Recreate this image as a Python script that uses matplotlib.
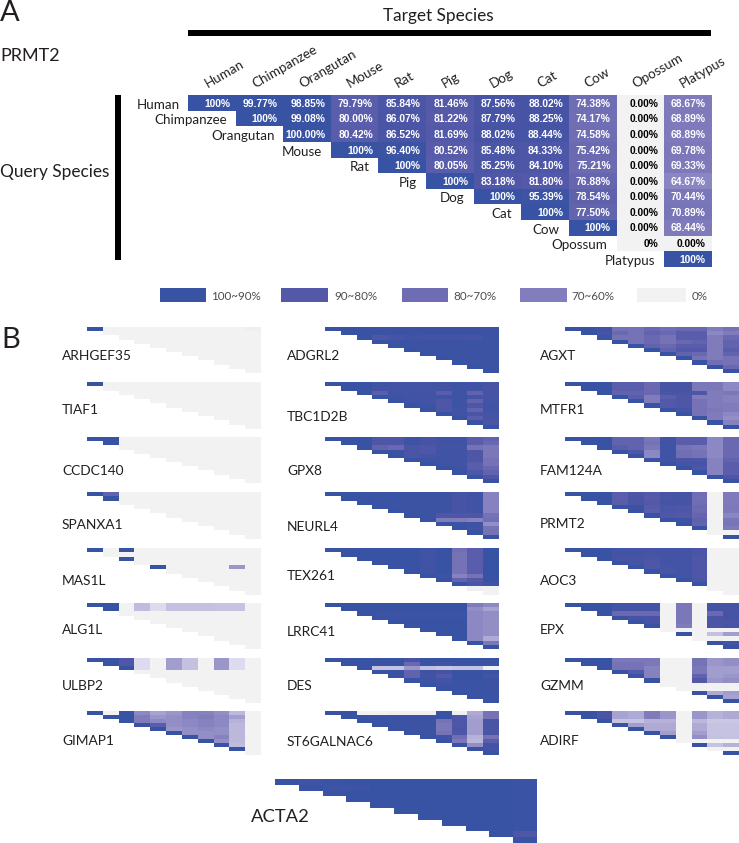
import numpy as np
import matplotlib
matplotlib.use('Agg')
import matplotlib.pyplot as plt
from matplotlib.colors import LinearSegmentedColormap
from matplotlib.patches import Rectangle

plt.rcParams['font.family'] = ['Lato', 'DejaVu Sans']

W, H = 739, 843

SPECIES = ['Human', 'Chimpanzee', 'Orangutan', 'Mouse', 'Rat', 'Pig', 'Dog',
           'Cat', 'Cow', 'Opossum', 'Platypus']

# panel A, as printed in the cells
PRMT2_TEXT = [
    ['100%', '99.77%', '98.85%', '79.79%', '85.84%', '81.46%', '87.56%', '88.02%', '74.38%', '0.00%', '68.67%'],
    ['100%', '99.08%', '80.00%', '86.07%', '81.22%', '87.79%', '88.25%', '74.17%', '0.00%', '68.89%'],
    ['100.00%', '80.42%', '86.52%', '81.69%', '88.02%', '88.44%', '74.58%', '0.00%', '68.89%'],
    ['100%', '96.40%', '80.52%', '85.48%', '84.33%', '75.42%', '0.00%', '69.78%'],
    ['100%', '80.05%', '85.25%', '84.10%', '75.21%', '0.00%', '69.33%'],
    ['100%', '83.18%', '81.80%', '76.88%', '0.00%', '64.67%'],
    ['100%', '95.39%', '78.54%', '0.00%', '70.44%'],
    ['100%', '77.50%', '0.00%', '70.89%'],
    ['100%', '0.00%', '68.44%'],
    ['0%', '0.00%'],
    ['100%'],
]

LEGEND_LABELS = ['100~90%', '90~80%', '80~70%', '70~60%', '0%']
LEGEND_COLORS = ['#3953a4', '#5358a8', '#6e6cb3', '#827ebd', '#f2f2f2']

# panel B, rows start on the diagonal
ARHGEF35 = [
    [100, 0, 0, 0, 0, 0, 0, 0, 0, 0, 8],
    [0, 0, 0, 0, 0, 0, 0, 0, 0, 0],
    [0, 0, 0, 0, 0, 0, 0, 0, 0],
    [0, 0, 0, 0, 0, 0, 0, 0],
    [0, 0, 0, 0, 0, 0, 0],
    [0, 0, 0, 0, 0, 0],
    [0, 0, 0, 0, 0],
    [0, 0, 0, 0],
    [0, 0, 0],
    [0, 0],
    [0],
]
TIAF1 = [
    [100, 0, 0, 0, 0, 0, 0, 0, 0, 0, 0],
    [0, 0, 0, 0, 0, 0, 0, 0, 0, 0],
    [0, 0, 0, 0, 0, 0, 0, 0, 0],
    [0, 0, 0, 0, 0, 0, 0, 0],
    [0, 0, 0, 0, 0, 0, 0],
    [0, 0, 0, 0, 0, 0],
    [0, 0, 0, 0, 0],
    [0, 0, 0, 0],
    [0, 0, 0],
    [0, 0],
    [0],
]
CCDC140 = [
    [100, 100, 0, 0, 0, 0, 0, 0, 0, 0, 0],
    [100, 0, 0, 0, 0, 0, 0, 0, 0, 0],
    [0, 0, 0, 0, 0, 0, 0, 0, 0],
    [0, 0, 0, 0, 0, 0, 0, 0],
    [0, 0, 0, 0, 0, 0, 0],
    [0, 0, 0, 0, 0, 0],
    [0, 0, 0, 0, 0],
    [0, 0, 0, 0],
    [0, 0, 0],
    [0, 0],
    [0],
]
SPANXA1 = [
    [100, 78, 0, 0, 0, 0, 0, 0, 0, 0, 0],
    [100, 0, 0, 0, 0, 0, 0, 0, 0, 0],
    [0, 0, 0, 0, 0, 0, 0, 0, 0],
    [0, 0, 0, 0, 0, 0, 0, 0],
    [0, 0, 0, 0, 0, 0, 0],
    [0, 0, 0, 0, 0, 0],
    [0, 0, 0, 0, 0],
    [0, 0, 0, 0],
    [0, 0, 0],
    [0, 0],
    [0],
]
MAS1L = [
    [100, 0, 100, 0, 0, 0, 0, 0, 0, 0, 0],
    [0, 0, 0, 0, 0, 0, 0, 0, 0, 0],
    [100, 0, 0, 0, 0, 0, 0, 0, 0],
    [0, 0, 0, 0, 0, 0, 0, 0],
    [100, 0, 0, 0, 0, 60, 0],
    [0, 0, 0, 0, 0, 0],
    [0, 0, 0, 0, 0],
    [0, 0, 0, 0],
    [0, 0, 0],
    [0, 0],
    [0],
]
ALG1L = [
    [100, 100, 0, 48, 30, 46, 46, 46, 44, 44, 0],
    [100, 0, 48, 30, 46, 46, 46, 44, 44, 0],
    [0, 0, 0, 0, 0, 0, 0, 0, 0],
    [0, 0, 0, 0, 0, 0, 0, 0],
    [0, 0, 0, 0, 0, 0, 0],
    [0, 0, 0, 0, 0, 0],
    [0, 0, 0, 0, 0],
    [0, 0, 0, 0],
    [0, 0, 0],
    [0, 0],
    [0],
]
ULBP2 = [
    [100, 100, 85, 30, 0, 58, 46, 0, 60, 30, 0],
    [100, 85, 30, 0, 58, 46, 0, 60, 30, 0],
    [100, 30, 0, 58, 46, 0, 60, 30, 0],
    [0, 0, 0, 0, 0, 0, 0, 0],
    [0, 0, 0, 0, 0, 0, 0],
    [0, 0, 0, 0, 0, 0],
    [0, 0, 0, 0, 0],
    [0, 0, 0, 0],
    [0, 0, 0],
    [0, 0],
    [0],
]
GIMAP1 = [
    [100, 0, 100, 64, 56, 60, 66, 66, 62, 50, 0],
    [100, 100, 68, 60, 62, 66, 68, 64, 58, 0],
    [100, 68, 64, 62, 64, 66, 64, 52, 0],
    [100, 80, 62, 64, 66, 64, 50, 0],
    [100, 60, 62, 64, 62, 50, 0],
    [100, 62, 62, 62, 50, 0],
    [100, 62, 66, 50, 0],
    [100, 62, 50, 0],
    [100, 48, 0],
    [100, 0],
    [0],
]
ADGRL2 = [
    [100, 100, 100, 98, 97, 97, 97, 97, 97, 97, 97],
    [100, 100, 97, 97, 97, 97, 97, 97, 97, 97],
    [100, 84, 89, 91, 90, 90, 90, 88, 97],
    [100, 97, 97, 97, 97, 97, 97, 97],
    [100, 97, 97, 97, 97, 97, 97],
    [100, 97, 97, 97, 97, 97],
    [100, 97, 97, 97, 97],
    [100, 97, 97, 97],
    [100, 97, 97],
    [100, 97],
    [100],
]
TBC1D2B = [
    [100, 100, 100, 93, 90, 90, 90, 91, 95, 92, 88],
    [100, 100, 93, 90, 90, 90, 91, 95, 92, 88],
    [100, 80, 92, 92, 90, 80, 94, 78, 88],
    [100, 95, 92, 92, 92, 95, 88, 88],
    [100, 92, 90, 84, 95, 78, 90],
    [100, 94, 84, 95, 84, 92],
    [100, 84, 92, 78, 92],
    [100, 93, 86, 88],
    [100, 80, 88],
    [100, 86],
    [100],
]
GPX8 = [
    [100, 100, 100, 84, 84, 94, 88, 92, 92, 80, 78],
    [100, 100, 84, 84, 94, 88, 92, 92, 80, 76],
    [100, 78, 76, 86, 84, 90, 90, 72, 70],
    [100, 98, 86, 84, 92, 92, 84, 70],
    [100, 86, 88, 92, 92, 84, 70],
    [100, 96, 92, 92, 84, 72],
    [100, 96, 92, 80, 72],
    [100, 94, 80, 76],
    [100, 84, 78],
    [100, 84],
    [100],
]
NEURL4 = [
    [100, 100, 100, 98, 98, 97, 97, 97, 88, 92, 66],
    [100, 100, 98, 98, 97, 97, 97, 88, 92, 66],
    [100, 98, 98, 97, 97, 97, 88, 92, 66],
    [100, 98, 97, 97, 97, 88, 92, 66],
    [100, 97, 97, 97, 88, 92, 66],
    [100, 97, 84, 84, 84, 72],
    [100, 68, 68, 66, 74],
    [100, 96, 94, 62],
    [100, 92, 72],
    [100, 72],
    [100],
]
TEX261 = [
    [100, 100, 100, 100, 100, 100, 92, 100, 74, 80, 100],
    [100, 100, 100, 100, 100, 92, 100, 72, 80, 100],
    [100, 100, 100, 100, 92, 100, 72, 80, 100],
    [100, 100, 100, 92, 100, 72, 80, 100],
    [100, 100, 92, 100, 72, 80, 100],
    [100, 92, 100, 72, 80, 100],
    [100, 96, 66, 72, 100],
    [100, 78, 82, 100],
    [100, 86, 92],
    [3, 0],
    [0],
]
LRRC41 = [
    [100, 100, 100, 100, 100, 100, 100, 100, 100, 68, 64],
    [100, 100, 100, 100, 100, 100, 100, 100, 62, 56],
    [100, 97, 97, 97, 97, 97, 97, 64, 62],
    [100, 98, 98, 98, 98, 98, 64, 62],
    [100, 100, 100, 100, 100, 64, 62],
    [100, 100, 100, 100, 64, 62],
    [100, 100, 100, 64, 62],
    [100, 100, 64, 62],
    [100, 64, 54],
    [100, 70],
    [100],
]
DES = [
    [100, 100, 100, 100, 100, 88, 100, 100, 100, 100, 100],
    [100, 100, 100, 100, 76, 98, 92, 98, 98, 98],
    [100, 44, 44, 60, 46, 42, 44, 44, 4],
    [100, 100, 78, 96, 90, 100, 100, 97],
    [100, 78, 92, 82, 100, 100, 90],
    [100, 96, 90, 98, 98, 97],
    [100, 96, 98, 98, 97],
    [100, 98, 98, 97],
    [100, 98, 97],
    [100, 97],
    [100],
]
ST6GALNAC6 = [
    [100, 100, 0, 0, 3, 3, 3, 100, 5, 54, 72],
    [100, 100, 98, 98, 98, 98, 100, 84, 56, 72],
    [100, 98, 98, 97, 97, 72, 84, 58, 86],
    [100, 97, 97, 97, 70, 84, 58, 86],
    [100, 97, 97, 70, 86, 58, 86],
    [100, 97, 72, 84, 58, 86],
    [100, 92, 74, 52, 72],
    [100, 70, 50, 80],
    [100, 62, 90],
    [100, 90],
    [100],
]
AGXT = [
    [100, 100, 92, 72, 72, 76, 74, 76, 76, 68, 72],
    [100, 88, 76, 72, 78, 76, 80, 80, 64, 68],
    [96, 72, 72, 76, 72, 80, 80, 68, 76],
    [100, 72, 76, 72, 76, 78, 68, 78],
    [100, 78, 76, 80, 80, 68, 78],
    [100, 78, 82, 82, 68, 80],
    [100, 78, 76, 68, 78],
    [100, 72, 68, 72],
    [100, 74, 72],
    [100, 76],
    [100],
]
MTFR1 = [
    [100, 100, 100, 80, 80, 76, 88, 88, 70, 70, 64],
    [100, 100, 80, 80, 76, 88, 88, 70, 70, 64],
    [100, 78, 78, 76, 86, 86, 84, 68, 70],
    [100, 80, 68, 80, 84, 68, 68, 66],
    [100, 68, 82, 84, 72, 68, 66],
    [100, 82, 84, 72, 68, 68],
    [100, 88, 72, 70, 68],
    [100, 72, 68, 64],
    [100, 68, 62],
    [100, 66],
    [100],
]
FAM124A = [
    [100, 100, 100, 78, 78, 70, 92, 80, 80, 64, 76],
    [100, 100, 78, 78, 72, 92, 80, 80, 64, 76],
    [100, 80, 78, 70, 92, 72, 70, 64, 76],
    [100, 85, 64, 92, 74, 72, 64, 76],
    [100, 64, 92, 74, 72, 64, 76],
    [100, 92, 86, 84, 66, 78],
    [100, 88, 88, 66, 80],
    [100, 84, 66, 80],
    [100, 66, 80],
    [100, 84],
    [100],
]
AOC3 = [
    [100, 100, 100, 90, 90, 88, 90, 90, 86, 0, 0],
    [100, 100, 90, 90, 88, 90, 90, 86, 0, 0],
    [100, 88, 88, 86, 90, 90, 84, 0, 0],
    [100, 90, 84, 90, 90, 84, 0, 0],
    [100, 84, 88, 90, 84, 0, 0],
    [100, 86, 90, 84, 0, 0],
    [100, 90, 84, 0, 0],
    [100, 86, 0, 0],
    [100, 0, 0],
    [0, 0],
    [0],
]
EPX = [
    [100, 100, 100, 90, 90, 90, 0, 70, 0, 90, 88],
    [100, 100, 90, 90, 90, 0, 70, 0, 90, 88],
    [100, 76, 76, 76, 0, 70, 0, 76, 88],
    [100, 88, 88, 0, 70, 0, 86, 88],
    [100, 88, 0, 70, 0, 86, 86],
    [100, 0, 68, 0, 86, 88],
    [0, 0, 0, 0, 0],
    [100, 0, 45, 58],
    [0, 0, 0],
    [100, 90],
    [100],
]
GZMM = [
    [100, 100, 100, 70, 70, 70, 0, 0, 72, 60, 62],
    [100, 100, 72, 72, 70, 0, 0, 72, 60, 62],
    [100, 72, 72, 66, 0, 0, 70, 58, 58],
    [100, 82, 66, 0, 0, 70, 58, 58],
    [100, 66, 0, 0, 78, 58, 60],
    [100, 0, 0, 82, 60, 62],
    [0, 0, 0, 0, 0],
    [0, 0, 0, 0],
    [100, 54, 58],
    [100, 56],
    [100],
]
ADIRF = [
    [100, 100, 86, 56, 54, 68, 60, 0, 60, 52, 54],
    [100, 86, 56, 54, 68, 60, 0, 60, 52, 54],
    [100, 44, 44, 52, 52, 0, 50, 42, 42],
    [100, 58, 54, 54, 0, 54, 44, 44],
    [100, 54, 54, 0, 54, 44, 44],
    [100, 58, 0, 58, 44, 44],
    [100, 0, 62, 46, 46],
    [0, 0, 0, 0],
    [100, 44, 52],
    [0, 0],
    [100],
]
ACTA2 = [
    [100, 92, 98, 100, 100, 100, 100, 100, 100, 100, 98],
    [100, 96, 96, 100, 100, 100, 100, 100, 100, 98],
    [100, 100, 100, 100, 100, 100, 100, 100, 98],
    [100, 100, 100, 100, 100, 100, 100, 98],
    [100, 100, 100, 100, 100, 100, 98],
    [100, 100, 100, 100, 100, 98],
    [100, 100, 100, 100, 98],
    [100, 100, 100, 98],
    [100, 100, 98],
    [100, 85],
    [100],
]


def triangle(rows):
    # rows hold the diagonal and everything right of it
    out = np.full((11, 11), np.nan)
    for r, row in enumerate(rows):
        out[r, r:] = row
    return out


def px_axes(fig, x, y, w, h):
    ax = fig.add_axes([x / W, 1 - (y + h) / H, w / W, h / H])
    ax.axis('off')
    return ax


def heat(ax, rows):
    ax.imshow(triangle(rows), cmap=cmap, vmin=0, vmax=100, aspect='auto',
              interpolation='nearest')


cmap = LinearSegmentedColormap.from_list('identity', [
    (0.00, '#f2f2f2'), (0.10, '#eeeef6'), (0.30, '#dcdcee'), (0.50, '#bdb9dd'),
    (0.65, '#8985c1'), (0.75, '#6e6cb3'), (0.82, '#5358a8'), (0.90, '#4454a6'),
    (1.00, '#3953a4'),
])
cmap.set_bad((1, 1, 1, 0))

fig = plt.figure(figsize=(W / 100, H / 100), dpi=100)
page = px_axes(fig, 0, 0, W, H)
page.set_xlim(0, W)
page.set_ylim(H, 0)

INK = '#231f20'
page.text(0, 21, 'A', fontsize=21, va='baseline', color=INK)
page.text(1, 348, 'B', fontsize=21, va='baseline', color=INK)
page.text(0, 61, 'PRMT2', fontsize=13, va='baseline', color=INK)
page.text(0, 177, 'Query Species', fontsize=12.4, va='baseline', color=INK)
page.text(438.5, 21, 'Target Species', fontsize=12.4, va='baseline', ha='center',
          color=INK)
page.add_patch(Rectangle((187.5, 30), 523, 5.5, color='black', lw=0))
page.add_patch(Rectangle((115, 95), 6, 165, color='black', lw=0))

# panel A
prmt2 = [[float(s.rstrip('%')) for s in row] for row in PRMT2_TEXT]
ax_a = px_axes(fig, 187.5, 95.5, 523, 171.5)
heat(ax_a, prmt2)
for r, row in enumerate(PRMT2_TEXT):
    for k, s in enumerate(row):
        c = r + k
        ax_a.text(c + 0.4, r + 0.03, s, ha='right', va='center', fontsize=7.4,
                  fontweight='bold', family='Liberation Sans',
                  color='black' if prmt2[r][k] == 0 else 'white')
    ax_a.text(r - 0.67, r + 0.1, SPECIES[r], ha='right', va='center',
              fontsize=9.6, color=INK, clip_on=False)
for c, name in enumerate(SPECIES):
    ax_a.text(c - 0.08, -0.98, name, rotation=30, rotation_mode='anchor',
              ha='left', va='baseline', fontsize=9.6, color=INK,
              clip_on=False)

legend_x = [160, 281, 402, 520, 637]
legend_w = [46, 47, 46, 47, 49]
legend_tx = [211, 334, 453, 571, 692]
for x, w, tx, color, label in zip(legend_x, legend_w, legend_tx, LEGEND_COLORS,
                                  LEGEND_LABELS):
    page.add_patch(Rectangle((x, 288), w, 14, color=color, lw=0))
    page.text(tx, 296, label, fontsize=8.4, va='center', color='#4d4d4f')

# panel B
row_tops = [327, 382, 437, 492, 548, 603, 658, 711]
row_heights = [46, 47, 46, 47, 47, 46, 45, 44]
panels = [
    (87, 62, [(ARHGEF35, 'ARHGEF35', 360), (TIAF1, 'TIAF1', 414),
              (CCDC140, 'CCDC140', 475), (SPANXA1, 'SPANXA1', 529),
              (MAS1L, 'MAS1L', 585), (ALG1L, 'ALG1L', 634),
              (ULBP2, 'ULBP2', 690), (GIMAP1, 'GIMAP1', 745)]),
    (325, 287, [(ADGRL2, 'ADGRL2', 360), (TBC1D2B, 'TBC1D2B', 421),
                (GPX8, 'GPX8', 475), (NEURL4, 'NEURL4', 531),
                (TEX261, 'TEX261', 580), (LRRC41, 'LRRC41', 636),
                (DES, 'DES', 690), (ST6GALNAC6, 'ST6GALNAC6', 746)]),
    (565, 540, [(AGXT, 'AGXT', 360), (MTFR1, 'MTFR1', 414),
                (FAM124A, 'FAM124A', 475), (PRMT2_TEXT, 'PRMT2', 528),
                (AOC3, 'AOC3', 585), (EPX, 'EPX', 634),
                (GZMM, 'GZMM', 690), (ADIRF, 'ADIRF', 745)]),
]
for x0, label_x, column in panels:
    for top, height, (rows, name, label_y) in zip(row_tops, row_heights, column):
        ax = px_axes(fig, x0, top, 174, height)
        heat(ax, prmt2 if rows is PRMT2_TEXT else rows)
        page.text(label_x, label_y, name, fontsize=9.9, va='baseline', color=INK)

ax = px_axes(fig, 275, 779, 261.5, 64)
heat(ax, ACTA2)
page.text(251, 822, 'ACTA2', fontsize=13.2, va='baseline', color=INK)

fig.savefig('out.png', dpi=100)
